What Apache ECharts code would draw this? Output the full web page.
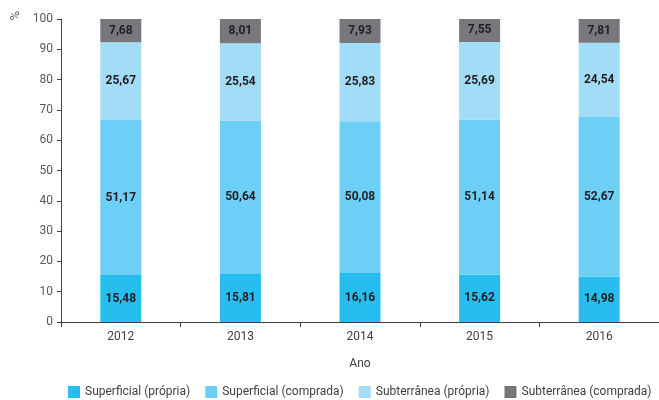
<!DOCTYPE html>
<html><head><meta charset="utf-8">
<script src="https://cdn.jsdelivr.net/npm/echarts@6/dist/echarts.min.js"></script>
<style>html,body{margin:0;padding:0;background:#fff}#c{width:659px;height:400px}</style>
</head><body><div id="c"></div>
<script>
var categories = ['2012','2013','2014','2015','2016'];
var supPropria = [15.48, 15.81, 16.16, 15.62, 14.98];
var supComprada = [51.17, 50.64, 50.08, 51.14, 52.67];
var subPropria = [25.67, 25.54, 25.83, 25.69, 24.54];
var subComprada = [7.68, 8.01, 7.93, 7.55, 7.81];
var seriesNames = ['Superficial (própria)','Superficial (comprada)','Subterrânea (própria)','Subterrânea (comprada)'];
var colors = ['#27bdef','#6dcff6','#a2dcf7','#77787b'];
var font = '"Roboto", sans-serif';
function fmt(p){ return p.value.toFixed(2).replace('.', ','); }
var dataSets = [supPropria, supComprada, subPropria, subComprada];
var series = dataSets.map(function(d,i){
  return {
    name: seriesNames[i], type:'bar', stack:'t', data:d, barWidth:41,
    itemStyle:{color:colors[i]},
    label:{show:true, position:'inside', formatter:fmt, color:'#231f20', fontWeight:'bold', fontSize:12, fontFamily:font}
  };
});
var chart = echarts.init(document.getElementById('c'));
chart.setOption({
  animation:false,
  color: colors,
  grid:{left:61, right:0, top:19, bottom:78, containLabel:false},
  legend:{left:63, top:381, width:640, padding:5, itemWidth:12, itemHeight:12, itemGap:15, icon:'rect',
    textStyle:{fontFamily:font, fontSize:12, color:'#414042'}, data:seriesNames},
  xAxis:{type:'category', data:categories, name:'Ano', nameLocation:'middle', nameGap:36,
    nameTextStyle:{fontFamily:font, fontSize:12, color:'#414042'},
    axisLine:{lineStyle:{color:'#414042'}}, axisTick:{show:true, lineStyle:{color:'#414042'}},
    axisLabel:{fontFamily:font, fontSize:12, color:'#414042', margin:9}},
  yAxis:{type:'value', min:0, max:100, interval:10,
    axisLine:{show:true, lineStyle:{color:'#414042'}}, axisTick:{show:true, length:4, lineStyle:{color:'#414042'}},
    splitLine:{show:false},
    axisLabel:{fontFamily:font, fontSize:12, color:'#58595b', margin:8}},
  graphic:[{type:'text', left:9, top:11, rotation:Math.PI/2, style:{text:'%', font:'13px '+font, fill:'#58595b'}}],
  series: series
});
</script></body></html>
